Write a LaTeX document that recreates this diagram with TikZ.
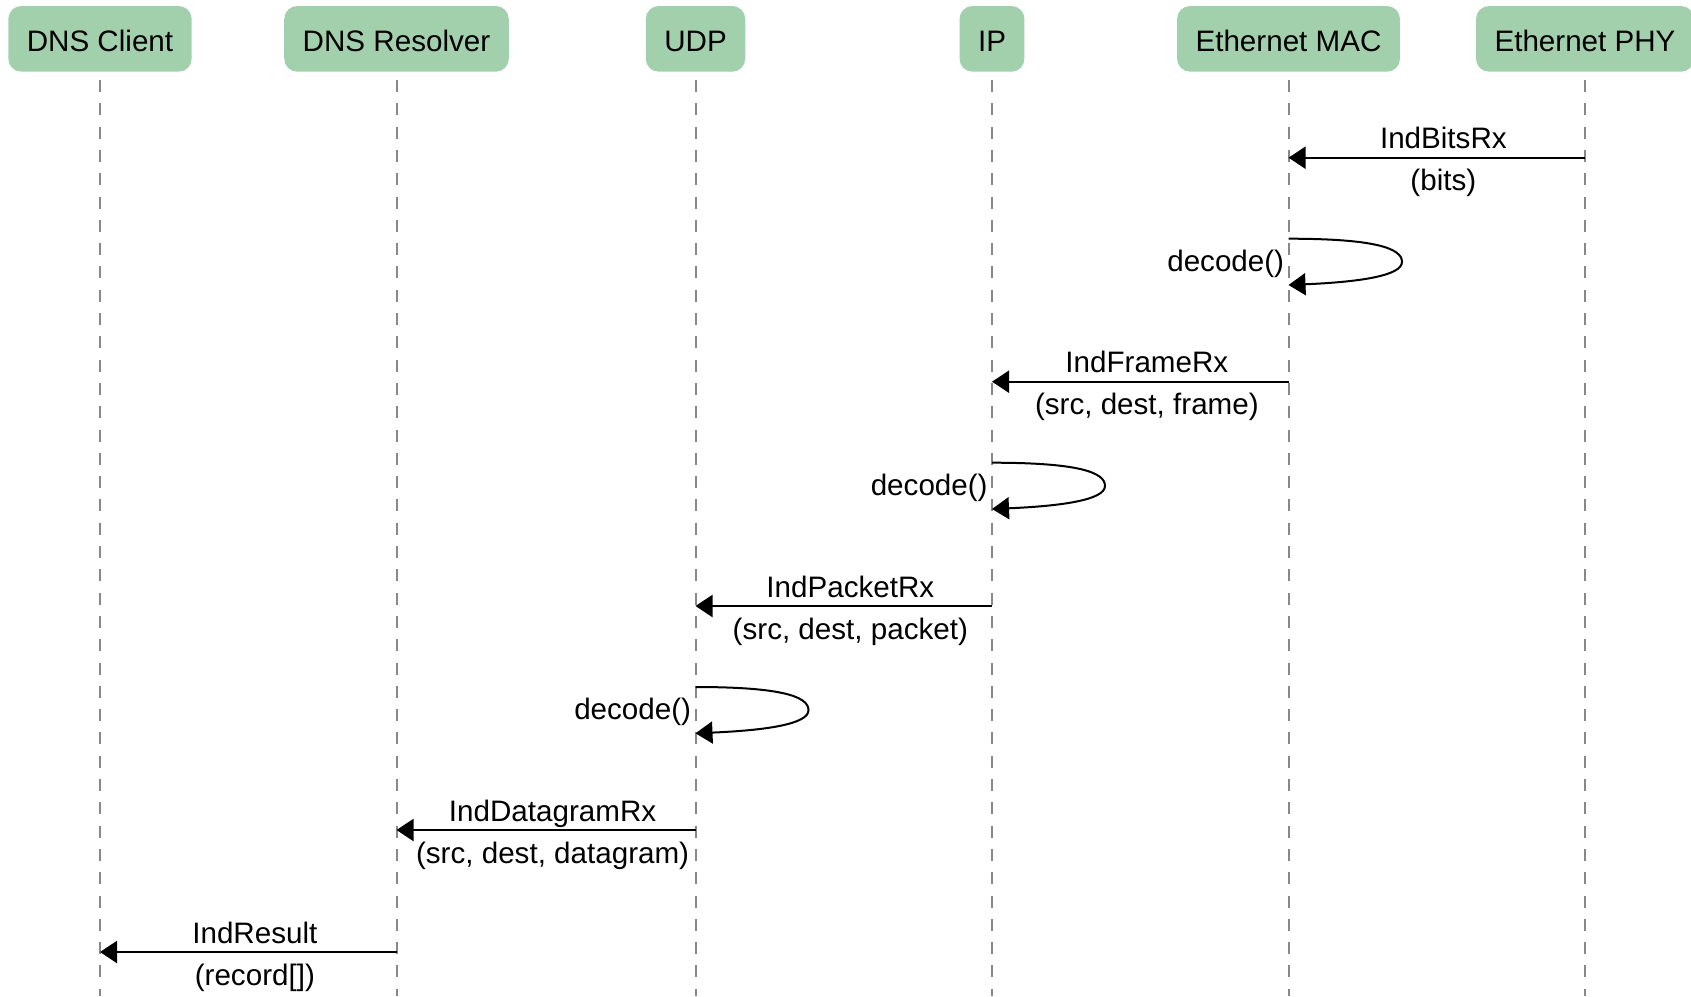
\documentclass[tikz,border=0pt]{standalone}
\usepackage{fontspec}
\setmainfont{Liberation Sans}
\usetikzlibrary{arrows.meta, positioning}

\definecolor{boxgreen}{HTML}{A3D0AC}
\definecolor{lifegray}{HTML}{888888}

\begin{document}
\begin{tikzpicture}[x=0.5pt, y=-0.5pt, >={Triangle[length=8.5pt, width=11pt]},
        actor/.style={fill=boxgreen, rounded corners=6.5pt, minimum height=32.85pt,
            inner xsep=9.25pt, text height=12.6pt, text depth=0pt,
            font=\fontsize{14.8}{18}\selectfont},
        life/.style={draw=lifegray, line width=1pt, dash pattern=on 6pt off 5.65pt},
        msg/.style={->, line width=1pt},
        lbl/.style={inner sep=0pt, text height=11pt, text depth=3.5pt,
            font=\fontsize{14.8}{18}\selectfont},
        above lbl/.style={lbl, midway, above=0.5pt, xshift=3.3pt},
        below lbl/.style={lbl, midway, below=5pt, xshift=3.3pt}]
        \useasboundingbox (0,0) rectangle (1691,996);

        \node[actor] (client) at (100,38.85) {DNS Client};
        \node[actor] (resolver) at (396.5,38.85) {DNS Resolver};
        \node[actor] (udp) at (695.5,38.85) {UDP};
        \node[actor] (ip) at (992,38.85) {IP};
        \node[actor] (mac) at (1288.5,38.85) {Ethernet MAC};
        \node[actor] (phy) at (1585,38.85) {Ethernet PHY};

        \foreach \n in {client, resolver, udp, ip, mac, phy}
            \draw[life] (\n |- 0,80) -- (\n |- 0,996);

        \draw[msg] (phy |- 0,157.7) -- (mac |- 0,157.7)
            node[above lbl] {IndBitsRx} node[below lbl] {(bits)};

        \draw[msg] (mac |- 0,238.7) .. controls +(85,0) and +(0,-14) .. ++(113.5,23.2)
            .. controls +(0,14) and +(70,-3) .. (mac |- 0,285);
        \node[lbl, left=2pt] (decmac) at (mac |- 0,264) {decode()};

        \draw[msg] (mac |- 0,381.7) -- (ip |- 0,381.7)
            node[above lbl] {IndFrameRx} node[below lbl] {(src, dest, frame)};

        \draw[msg] (ip |- 0,462.7) .. controls +(85,0) and +(0,-14) .. ++(113,23.2)
            .. controls +(0,14) and +(70,-3) .. (ip |- 0,509);
        \node[lbl, left=2pt] (decip) at (ip |- 0,488) {decode()};

        \draw[msg] (ip |- 0,606) -- (udp |- 0,606)
            node[above lbl] {IndPacketRx} node[below lbl] {(src, dest, packet)};

        \draw[msg] (udp |- 0,687) .. controls +(85,0) and +(0,-14) .. ++(113,23.2)
            .. controls +(0,14) and +(70,-3) .. (udp |- 0,733.3);
        \node[lbl, left=2pt] (decudp) at (udp |- 0,712.3) {decode()};

        \draw[msg] (udp |- 0,830) -- (resolver |- 0,830)
            node[above lbl] {IndDatagramRx} node[below lbl] {(src, dest, datagram)};

        \draw[msg] (resolver |- 0,952) -- (client |- 0,952)
            node[above lbl] {IndResult} node[below lbl] {(record[])};
    \end{tikzpicture}
\end{document}
